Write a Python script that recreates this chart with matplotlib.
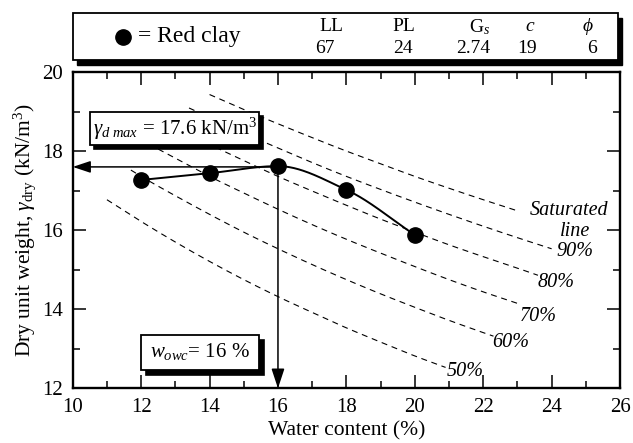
import numpy as np
import matplotlib
matplotlib.use("Agg")
import matplotlib.pyplot as plt
from matplotlib.patches import Rectangle
from matplotlib.lines import Line2D
import matplotlib.transforms as mtransforms

plt.rcParams['font.family'] = ['Liberation Serif', 'DejaVu Serif']
plt.rcParams['mathtext.fontset'] = 'custom'
plt.rcParams['mathtext.rm'] = 'Liberation Serif'
plt.rcParams['mathtext.it'] = 'Liberation Serif:italic'
plt.rcParams['mathtext.bf'] = 'Liberation Serif:bold'
plt.rcParams['lines.scale_dashes'] = False

# ---------------- data ----------------
water_content = [12, 14, 16, 18, 20]
dry_unit_weight = [17.27, 17.44, 17.62, 17.02, 15.88]

# zero-air-void / saturation curves
w_s100 = [14, 15, 16, 17, 18, 19, 20, 21, 22, 23]
g_s100 = [19.43, 19.05, 18.69, 18.34, 18.00, 17.68, 17.36, 17.06, 16.77, 16.49]
w_s90 = [13.4, 14, 15, 16, 17, 18, 19, 20, 21, 22, 23, 24]
g_s90 = [19.09, 18.85, 18.45, 18.08, 17.71, 17.36, 17.03, 16.71, 16.40, 16.10, 15.81, 15.53]
w_s80 = [12.5, 13, 14, 15, 16, 17, 18, 19, 20, 21, 22, 23, 23.6]
g_s80 = [18.82, 18.60, 18.17, 17.76, 17.36, 16.99, 16.63, 16.28, 15.95, 15.63, 15.33, 15.04, 14.86]
w_s70 = [12.5, 13, 14, 15, 16, 17, 18, 19, 20, 21, 22, 23]
g_s70 = [18.05, 17.82, 17.36, 16.94, 16.53, 16.14, 15.77, 15.42, 15.08, 14.75, 14.44, 14.15]
w_s60 = [11.7, 12, 13, 14, 15, 16, 17, 18, 19, 20, 21, 22, 22.3]
g_s60 = [17.52, 17.36, 16.87, 16.40, 15.95, 15.53, 15.13, 14.75, 14.39, 14.05, 13.72, 13.41, 13.32]
w_s50 = [11, 12, 13, 14, 15, 16, 17, 18, 19, 20, 20.9]
g_s50 = [16.77, 16.22, 15.70, 15.21, 14.75, 14.32, 13.92, 13.53, 13.17, 12.82, 12.53]

sat_labels = ["Saturated", "90%", "80%", "70%", "60%", "50%"]

gamma_dmax = 17.6
w_owc = 16

legend_headers = ["LL", "PL", "G$_s$", "$c$", r"$\phi$"]
legend_values = ["67", "24", "2.74", "19", "6"]


def pchip(x, y, xs):
    x = np.asarray(x, float)
    y = np.asarray(y, float)
    h = np.diff(x)
    d = np.diff(y) / h
    n = len(x)
    m = np.zeros(n)
    m[0] = d[0]
    m[-1] = d[-1]
    for k in range(1, n - 1):
        if d[k - 1] * d[k] <= 0:
            m[k] = 0.0
        else:
            w1 = 2 * h[k] + h[k - 1]
            w2 = h[k] + 2 * h[k - 1]
            m[k] = (w1 + w2) / (w1 / d[k - 1] + w2 / d[k])
    xs = np.asarray(xs, float)
    idx = np.clip(np.searchsorted(x, xs) - 1, 0, n - 2)
    t = (xs - x[idx]) / h[idx]
    h00 = 2 * t**3 - 3 * t**2 + 1
    h10 = t**3 - 2 * t**2 + t
    h01 = -2 * t**3 + 3 * t**2
    h11 = t**3 - t**2
    return h00 * y[idx] + h10 * h[idx] * m[idx] + h01 * y[idx + 1] + h11 * h[idx] * m[idx + 1]


fig = plt.figure(figsize=(6.33, 4.43), dpi=100)
ax = fig.add_axes([0.1149, 0.1233, 0.8646, 0.7142])

# saturation curves
for ws, gs in [(w_s100, g_s100), (w_s90, g_s90), (w_s80, g_s80),
               (w_s70, g_s70), (w_s60, g_s60), (w_s50, g_s50)]:
    xs = np.linspace(ws[0], ws[-1], 200)
    ax.plot(xs, pchip(ws, gs, xs), color='black', lw=0.8,
            dashes=(4.3, 3.4), zorder=2)

# compaction curve
xs = np.linspace(water_content[0], water_content[-1], 300)
ax.plot(xs, pchip(water_content, dry_unit_weight, xs), color='black', lw=1.4, zorder=4)
ax.plot(water_content, dry_unit_weight, 'o', color='black', ms=11, zorder=5)

# arrows
ax.annotate('', xy=(10.0, gamma_dmax), xytext=(w_owc, gamma_dmax),
            arrowprops=dict(arrowstyle='-|>,head_length=0.9,head_width=0.3',
                            lw=1.1, color='black', shrinkA=0, shrinkB=0,
                            mutation_scale=12), zorder=3)
ax.annotate('', xy=(w_owc, 12.0), xytext=(w_owc, gamma_dmax),
            arrowprops=dict(arrowstyle='-|>,head_length=1.0,head_width=0.33',
                            lw=1.1, color='black', shrinkA=0, shrinkB=0,
                            mutation_scale=12), zorder=3)


def shadow_box(x0, y0, x1, y1, dx, dy):
    off = mtransforms.offset_copy(ax.transData, fig=fig, x=dx, y=-dy, units='dots')
    ax.add_patch(Rectangle((x0, y0), x1 - x0, y1 - y0, transform=off,
                           facecolor='black', edgecolor='black', lw=1.2, zorder=6))
    ax.add_patch(Rectangle((x0, y0), x1 - x0, y1 - y0,
                           facecolor='white', edgecolor='black', lw=1.3, zorder=7))


shadow_box(10.51, 18.16, 15.45, 18.99, 4, 4)
ax.text(12.98, 18.57, r"$\gamma_{d\ max}$ = 17.6 kN/m$^3$", ha='center', va='center',
        fontsize=15, zorder=8)

shadow_box(12.01, 12.47, 15.44, 13.36, 5, 5)
ax.text(13.72, 12.92, r"$w_{owc}$= 16 %", ha='center', va='center',
        fontsize=15, zorder=8)

# saturation labels
lab_pos = [(23.37, 16.50), (24.15, 15.45), (23.6, 14.67),
           (23.08, 13.82), (22.26, 13.16), (20.94, 12.43)]
for lab, (lx, ly) in zip(sat_labels, lab_pos):
    ax.text(lx, ly, lab, ha='left', va='center', fontsize=14.5, style='italic', zorder=3)
ax.text(24.69, 15.97, "line", ha='center', va='center', fontsize=14.5, style='italic', zorder=3)

# axes styling
ax.set_xlim(10, 26)
ax.set_ylim(12, 20)
ax.set_xticks(np.arange(10, 27, 2))
ax.set_xticks(np.arange(11, 26, 2), minor=True)
ax.set_yticks(np.arange(12, 21, 2))
ax.set_yticks(np.arange(13, 20, 2), minor=True)
ax.tick_params(which='both', direction='in', top=True, right=True, width=1.1)
ax.tick_params(which='major', length=9.3, labelsize=15, pad=7)
ax.tick_params(which='minor', length=4.7)
for s in ax.spines.values():
    s.set_linewidth(1.7)
ax.set_xlabel("Water content (%)", fontsize=15.5, labelpad=3)
ax.set_ylabel(r"Dry unit weight, $\gamma_{\mathrm{dry}}$ (kN/m$^3$)", fontsize=15.5, labelpad=3)

# legend box (figure coordinates)
bx0, by0, bw, bh = 0.1158, 0.8646, 0.8605, 0.1054
fig.patches.append(Rectangle((bx0 + 4 / 633, by0 - 5 / 443), bw, bh, transform=fig.transFigure,
                             facecolor='black', edgecolor='black', lw=1.0, zorder=1))
fig.patches.append(Rectangle((bx0, by0), bw, bh, transform=fig.transFigure,
                             facecolor='white', edgecolor='black', lw=1.3, zorder=2))
fig.add_artist(Line2D([0.1948], [0.9172], marker='o', ms=11, color='black',
                      transform=fig.transFigure, zorder=3))
fig.text(0.218, 0.9187, "= Red clay", ha='left', va='center', fontsize=17, zorder=3)
hdr_x = [0.523, 0.638, 0.758, 0.837, 0.929]
val_x = [0.5134, 0.6367, 0.747, 0.8325, 0.935]
for hx, h in zip(hdr_x, legend_headers):
    fig.text(hx, 0.9397, h, ha='center', va='center', fontsize=14, zorder=3)
for vx, v in zip(val_x, legend_values):
    fig.text(vx, 0.891, v, ha='center', va='center', fontsize=14, zorder=3)

fig.savefig("out.png", dpi=100)
